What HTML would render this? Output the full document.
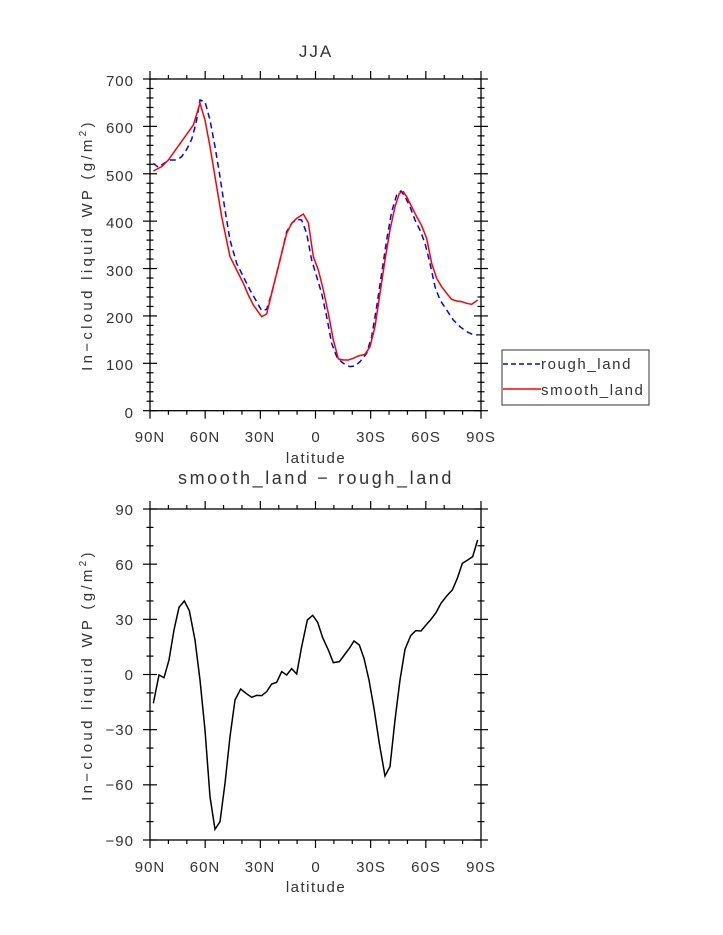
<!DOCTYPE html>
<html><head><meta charset="utf-8"><style>body{margin:0;background:#fff}svg{display:block}text{font-family:"Liberation Sans",sans-serif;fill:#333}</style></head>
<body>
<svg width="723" height="935" viewBox="0 0 723 935" xmlns="http://www.w3.org/2000/svg">
<g id="ticks" stroke="#000" stroke-width="1.2" fill="none">
</g>
<script>
(function(){
var NS="http://www.w3.org/2000/svg",g=document.getElementById("ticks");
function L(x1,y1,x2,y2){var l=document.createElementNS(NS,"line");l.setAttribute("x1",x1);l.setAttribute("y1",y1);l.setAttribute("x2",x2);l.setAttribute("y2",y2);g.appendChild(l);}
function frame(x0,x1,y0,y1,ny,nyMinor){
 for(var i=0;i<=18;i++){var x=x0+(x1-x0)*i/18;var len=(i%3==0)?8:4;L(x,y0-len,x,y0);L(x,y1,x,y1+len);}
 for(var j=0;j<=nyMinor;j++){var y=y0+(y1-y0)*j/nyMinor;var len=(j%(nyMinor/ny)==0)?7:3.5;L(x0-len,y,x0+len,y);L(x1-len,y,x1+len,y);}
}
frame(150,481,79,410.7,7,35);
frame(150,481,509,840,6,18);
})();
</script>
<rect x="150" y="79" width="331" height="331.7" fill="none" stroke="#000" stroke-width="1.3"/>
<rect x="150" y="509" width="331" height="331" fill="none" stroke="#000" stroke-width="1.3"/>

<text x="316" y="57" font-size="17" letter-spacing="2" text-anchor="middle">JJA</text>
<g font-size="15" letter-spacing="1" text-anchor="end">
<text x="134" y="86">700</text><text x="134" y="133">600</text><text x="134" y="181">500</text><text x="134" y="228">400</text><text x="134" y="276">300</text><text x="134" y="323">200</text><text x="134" y="370">100</text><text x="134" y="418">0</text>
</g>
<g font-size="15" letter-spacing="1" text-anchor="middle">
<text x="150" y="442">90N</text><text x="205" y="442">60N</text><text x="260" y="442">30N</text><text x="316" y="442">0</text><text x="371" y="442">30S</text><text x="426" y="442">60S</text><text x="481" y="442">90S</text>
<text x="316" y="463" font-size="15" letter-spacing="1.5">latitude</text>
<text x="150" y="872">90N</text><text x="205" y="872">60N</text><text x="260" y="872">30N</text><text x="316" y="872">0</text><text x="371" y="872">30S</text><text x="426" y="872">60S</text><text x="481" y="872">90S</text>
<text x="316" y="892" font-size="15" letter-spacing="1.5">latitude</text>
</g>
<text x="316" y="484" font-size="18" letter-spacing="2.6" text-anchor="middle">smooth_land − rough_land</text>
<g font-size="15" letter-spacing="1" text-anchor="end">
<text x="134" y="515">90</text><text x="134" y="570">60</text><text x="134" y="625">30</text><text x="134" y="680">0</text><text x="134" y="735">−30</text><text x="134" y="790">−60</text><text x="134" y="846">−90</text>
</g>
<text transform="translate(92,245) rotate(-90)" font-size="15" letter-spacing="3.3" text-anchor="middle">In−cloud liquid WP (g/m<tspan font-size="10" dy="-6">2</tspan><tspan dy="6">)</tspan></text>
<text transform="translate(92,675) rotate(-90)" font-size="15" letter-spacing="3.3" text-anchor="middle">In−cloud liquid WP (g/m<tspan font-size="10" dy="-6">2</tspan><tspan dy="6">)</tspan></text>

<g transform="translate(100,60) scale(0.33333)" fill="none">
<polyline vector-effect="non-scaling-stroke" stroke="#0000ff" stroke-width="1.5" stroke-dasharray="6,4" points="160,310 175,322 195,308 210,300 230,300 245,290 260,268 275,238 288,190 300,120 315,125 330,180 345,260 360,350 375,450 390,540 410,610 430,650 450,690 470,725 485,752 500,748 515,700 530,640 545,580 560,515 575,490 590,478 605,480 620,520 635,600 650,650 665,700 680,770 695,850 712,895 730,910 750,920 765,918 780,905 800,880 815,830 830,740 845,640 860,540 875,455 890,405 903,393 915,410 930,440 945,480 960,510 975,550 990,610 1005,680 1020,720 1040,750 1060,780 1080,800 1100,815 1115,822 1133,825"/>
<polyline vector-effect="non-scaling-stroke" stroke="#ff0000" stroke-width="1.5" points="160,333 185,320 205,300 230,265 255,230 280,195 300,130 315,180 330,260 345,350 365,470 390,590 410,630 430,670 445,705 460,735 485,770 500,762 515,700 530,640 545,580 560,520 575,490 590,475 610,462 625,488 640,590 655,630 670,690 685,760 700,840 715,897 730,900 745,900 760,895 775,888 795,883 810,860 825,800 840,700 855,600 870,510 885,440 898,400 910,395 920,410 935,440 950,470 965,497 980,535 995,610 1010,655 1025,680 1040,700 1055,718 1070,723 1085,725 1100,730 1115,733 1133,720"/>
</g>
<g transform="translate(100,490) scale(0.33333)" fill="none">
<polyline vector-effect="non-scaling-stroke" stroke="#000" stroke-width="1.5" points="160,640 177,555 192,563 207,510 222,420 237,352 253,333 268,362 285,450 300,570 315,720 330,920 345,1018 360,995 375,880 390,740 405,630 422,597 438,610 455,622 470,616 485,617 500,605 515,582 530,577 545,545 560,555 575,536 590,552 605,470 622,390 638,376 653,397 668,443 685,480 700,518 718,515 733,495 748,475 762,453 778,465 792,505 807,570 822,655 838,760 855,858 870,830 885,690 900,570 915,478 932,437 947,422 963,423 978,405 993,388 1008,368 1023,340 1040,318 1057,300 1072,265 1087,220 1103,210 1118,200 1133,150"/>
</g>

<rect x="502" y="350" width="147" height="55" fill="#fff" stroke="#333" stroke-width="1"/>
<line x1="503" y1="364" x2="541" y2="364" stroke="#0000ff" stroke-width="1.5" stroke-dasharray="5,3"/>
<line x1="503" y1="389" x2="541" y2="389" stroke="#ff0000" stroke-width="1.5"/>
<text x="541" y="369" font-size="15" letter-spacing="1.6">rough_land</text>
<text x="541" y="395" font-size="15" letter-spacing="1.6">smooth_land</text>
</svg>
</body></html>
